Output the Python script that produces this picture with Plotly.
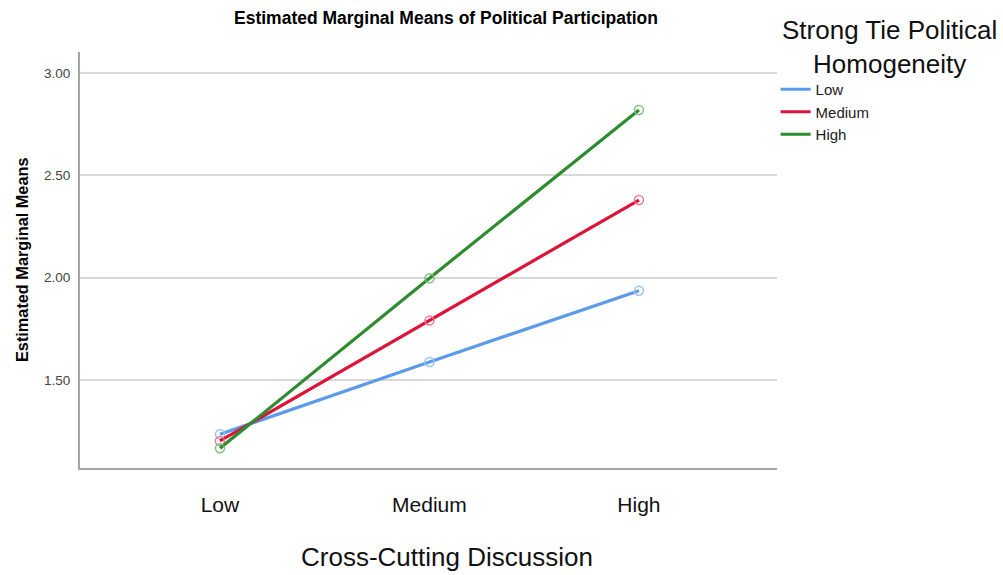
import plotly.graph_objects as go

categories = ["Low", "Medium", "High"]
series_names = ["Low", "Medium", "High"]
low_vals = [1.235, 1.588, 1.936]
medium_vals = [1.202, 1.790, 2.379]
high_vals = [1.166, 1.997, 2.819]
y_ticks = [1.50, 2.00, 2.50, 3.00]
y_tick_labels = ["1.50", "2.00", "2.50", "3.00"]

colors = ["#5b9bea", "#dc143c", "#2e8b2e"]
marker_colors = ["#9cc2f3", "#ec7a92", "#7fbf7f"]
values = [low_vals, medium_vals, high_vals]

FONT = "Liberation Sans, Arial, sans-serif"
xpos = list(range(len(categories)))

fig = go.Figure()
for name, vals, c, mc in zip(series_names, values, colors, marker_colors):
    fig.add_trace(go.Scatter(
        x=xpos, y=vals, mode="lines+markers", name=name, showlegend=False,
        line=dict(color=c, width=3.2),
        marker=dict(symbol="circle-open", size=9, color=mc, line=dict(width=1.5, color=mc)),
    ))
for name, c in zip(series_names, colors):
    fig.add_trace(go.Scatter(
        x=[None], y=[None], mode="lines", name=name,
        line=dict(color=c, width=3),
    ))

fig.update_layout(
    width=1003, height=575,
    margin=dict(l=80, r=226, t=52, b=107),
    paper_bgcolor="white", plot_bgcolor="white",
    font=dict(family=FONT, color="#000000"),
    title=dict(text="<b>Estimated Marginal Means of Political Participation</b>",
               font=dict(size=17.5, family=FONT, color="#000000"),
               x=446 / 1003, xanchor="center", xref="container",
               y=1 - 18 / 575, yanchor="middle", yref="container"),
    legend=dict(x=0.998, y=(468 - 73) / 416, xanchor="left", yanchor="top",
                font=dict(size=15, family=FONT, color="#222222"),
                bgcolor="rgba(0,0,0,0)", itemwidth=30, tracegroupgap=0),
    xaxis=dict(
        range=[-0.668, 2.659], tickmode="array", tickvals=xpos, ticktext=categories,
        showgrid=False, zeroline=False, showline=True, linecolor="#a6a6a6", linewidth=2,
        ticks="", tickfont=dict(size=21, family=FONT, color="#111111"),
        ticklabelstandoff=17,
    ),
    yaxis=dict(
        range=[1.07, 3.102], tickmode="array", tickvals=y_ticks, ticktext=y_tick_labels,
        showgrid=True, gridcolor="#d9d9d9", gridwidth=1.5, zeroline=False,
        showline=True, linecolor="#a6a6a6", linewidth=2,
        ticks="", tickfont=dict(size=13.5, family=FONT, color="#444444"),
        ticklabelstandoff=5,
    ),
    annotations=[
        dict(text="Cross-Cutting Discussion", xref="paper", yref="paper",
             x=(447 - 80) / 697, y=-(557 - 468) / 416, xanchor="center", yanchor="middle",
             showarrow=False, font=dict(size=26, family=FONT, color="#111111")),
        dict(text="<b>Estimated Marginal Means</b>", xref="paper", yref="paper",
             x=-(80 - 22) / 697, y=(468 - 260) / 416, xanchor="center", yanchor="middle",
             textangle=-90, showarrow=False,
             font=dict(size=16.3, family=FONT, color="#000000")),
        dict(text="Strong Tie Political<br>Homogeneity", xref="paper", yref="paper",
             x=(889 - 80) / 697, y=(468 - 47) / 416, xanchor="center", yanchor="middle",
             showarrow=False, align="center",
             font=dict(size=26, family=FONT, color="#111111")),
    ],
)

fig.write_html("out.html", config={"displayModeBar": False},
               post_script="document.body.style.margin='0';")
